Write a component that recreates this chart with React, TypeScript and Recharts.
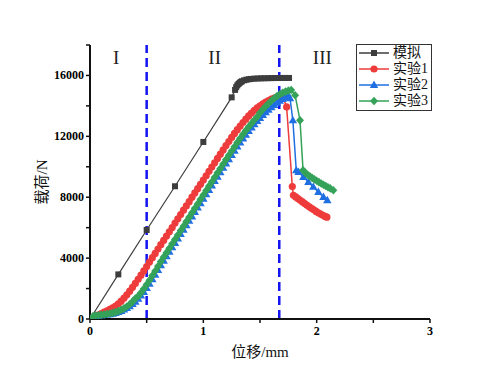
import React from "react";
import { LineChart, Line, XAxis, YAxis, ReferenceLine } from "recharts";

// 位移 (mm) / 载荷 (N)
const simX = [0, 0.25, 0.5, 0.75, 1.0, 1.25, 1.28, 1.29, 1.3, 1.31, 1.32, 1.33, 1.34, 1.36, 1.38, 1.4, 1.42, 1.45, 1.48, 1.51, 1.54, 1.57, 1.6, 1.63, 1.66, 1.69, 1.72, 1.756];
const simY = [0, 2930, 5850, 8720, 11630, 14560, 15050, 15230, 15350, 15440, 15510, 15570, 15620, 15680, 15720, 15750, 15770, 15790, 15800, 15810, 15815, 15820, 15825, 15830, 15830, 15835, 15835, 15835];

const riseX = [0, 0.025, 0.05, 0.075, 0.1, 0.125, 0.15, 0.175, 0.2, 0.225, 0.25, 0.275, 0.3, 0.325, 0.35, 0.375, 0.4, 0.425, 0.45, 0.475, 0.5, 0.525, 0.55, 0.575, 0.6, 0.625, 0.65, 0.675, 0.7, 0.725, 0.75, 0.775, 0.8, 0.825, 0.85, 0.875, 0.9, 0.925, 0.95, 0.975, 1.0, 1.025, 1.05, 1.075, 1.1, 1.125, 1.15, 1.175, 1.2, 1.225, 1.25, 1.275, 1.3, 1.325, 1.35, 1.375, 1.4, 1.425, 1.45, 1.475, 1.5, 1.525, 1.55, 1.575, 1.6, 1.625, 1.65, 1.675, 1.7, 1.725, 1.75, 1.775];

const exp1Y = [0, 90, 180, 270, 360, 450, 540, 630, 730, 850, 1000, 1170, 1370, 1590, 1830, 2080, 2340, 2610, 2880, 3160, 3450, 3740, 4030, 4310, 4600, 4880, 5160, 5450, 5730, 6010, 6300, 6580, 6860, 7150, 7430, 7710, 8000, 8280, 8560, 8850, 9130, 9410, 9700, 9980, 10260, 10550, 10830, 11110, 11390, 11660, 11930, 12190, 12440, 12680, 12910, 13130, 13340, 13530, 13710, 13870, 14010, 14140, 14250, 14350, 14440, 14510, 14570, 14620, 14650];
const exp1TailX = [1.735, 1.785, 1.795, 1.815, 1.835, 1.855, 1.875, 1.895, 1.915, 1.935, 1.955, 1.975, 1.995, 2.015, 2.035, 2.055, 2.075, 2.09];
const exp1TailY = [13930, 8700, 8130, 8020, 7910, 7800, 7690, 7580, 7470, 7370, 7270, 7170, 7070, 6980, 6890, 6810, 6740, 6690];

const exp2Y = [0, 120, 180, 220, 250, 270, 290, 320, 350, 400, 460, 530, 620, 720, 840, 980, 1140, 1330, 1540, 1780, 2040, 2320, 2610, 2910, 3220, 3530, 3830, 4130, 4420, 4710, 5000, 5290, 5580, 5870, 6160, 6450, 6740, 7030, 7320, 7610, 7900, 8190, 8480, 8770, 9060, 9350, 9640, 9930, 10220, 10500, 10780, 11060, 11330, 11600, 11860, 12110, 12350, 12580, 12800, 13010, 13210, 13400, 13580, 13750, 13910, 14060, 14200, 14330, 14450, 14560, 14690];
const exp2TailX = [1.765, 1.79, 1.82, 1.84, 1.883, 1.927, 1.97, 2.015, 2.06, 2.094];
const exp2TailY = [14500, 13050, 9770, 9660, 9330, 9000, 8680, 8350, 8020, 7800];

const exp3Y = [0, 170, 220, 250, 280, 300, 330, 360, 400, 450, 520, 600, 700, 820, 960, 1140, 1340, 1500, 1730, 1990, 2260, 2550, 2850, 3150, 3460, 3770, 4070, 4360, 4650, 4940, 5230, 5520, 5810, 6100, 6400, 6690, 6980, 7270, 7560, 7860, 8150, 8440, 8730, 9020, 9310, 9600, 9890, 10180, 10470, 10760, 11040, 11320, 11600, 11870, 12130, 12380, 12620, 12850, 13070, 13280, 13550, 13770, 13970, 14160, 14340, 14500, 14640, 14760, 14860, 14940, 15000, 15040];
const exp3TailX = [1.81, 1.853, 1.88, 1.9, 1.92, 1.94, 1.96, 1.98, 2.0, 2.02, 2.04, 2.06, 2.08, 2.1, 2.12, 2.147];
const exp3TailY = [14700, 13050, 9770, 9600, 9480, 9370, 9270, 9170, 9080, 8990, 8900, 8820, 8740, 8660, 8580, 8460];

const xTicks = [0, 0.5, 1, 1.5, 2, 2.5, 3];
const yTicks = [0, 2000, 4000, 6000, 8000, 10000, 12000, 14000, 16000, 18000];
const xLabels = [0, 1, 2, 3];
const yLabels = [0, 4000, 8000, 12000, 16000];
const stages = ["I", "II", "III"];
const stageX = [0.23, 1.1, 2.05];
const stageBounds = [0.5, 1.67];

const names = ["模拟", "实验1", "实验2", "实验3"];
const colors = ["#3d3d3d", "#ee3b3b", "#1f6fe3", "#34a258"];

const pairs = (xs: number[], ys: number[]) => ys.map((y, i) => ({ x: xs[i], y }));

const simData = pairs(simX, simY);
const exp1Data = pairs(riseX, exp1Y).concat(pairs(exp1TailX, exp1TailY));
const exp2Data = pairs(riseX, exp2Y).concat(pairs(exp2TailX, exp2TailY));
const exp3Data = pairs(riseX, exp3Y).concat(pairs(exp3TailX, exp3TailY));

const serif = "'Liberation Serif', 'Noto Sans CJK SC', serif";

function Marker({ kind, cx, cy, color }: { kind: number; cx: number; cy: number; color: string }) {
  if (kind === 0) return <rect x={cx - 3} y={cy - 3} width={6} height={6} fill={color} />;
  if (kind === 1) return <circle cx={cx} cy={cy} r={3.6} fill={color} />;
  if (kind === 2)
    return <polygon points={`${cx},${cy - 4.4} ${cx - 4.2},${cy + 3} ${cx + 4.2},${cy + 3}`} fill={color} />;
  return <polygon points={`${cx},${cy - 4.3} ${cx + 4},${cy} ${cx},${cy + 4.3} ${cx - 4},${cy}`} fill={color} />;
}

const dotFor = (kind: number) => (p: any) => (
  <Marker key={p.index} kind={kind} cx={p.cx} cy={p.cy} color={colors[kind]} />
);

function LegendBox() {
  return (
    <div
      style={{
        position: "absolute",
        left: 356,
        top: 44,
        border: "1px solid #333",
        background: "#fff",
        width: 74,
        padding: "0 0 1px 0",
        fontFamily: serif,
        fontSize: 14,
        lineHeight: "16px"
      }}
    >
      {names.map((n, i) => (
        <div key={n} style={{ display: "flex", alignItems: "center", height: 16 }}>
          <svg width={34} height={16}>
            <line x1={2} x2={32} y1={8} y2={8} stroke={colors[i]} strokeWidth={1.5} />
            <Marker kind={i} cx={17} cy={8} color={colors[i]} />
          </svg>
          <span style={{ marginLeft: 2, color: "#111" }}>{n}</span>
        </div>
      ))}
    </div>
  );
}

const YTick = (p: any) => {
  const v = p.payload.value;
  if (!yLabels.includes(v)) return <g />;
  return (
    <text x={p.x} y={p.y} dy={4} textAnchor="end" fontFamily={serif} fontSize={12} fontWeight="bold" fill="#000">
      {v}
    </text>
  );
};

const XTick = (p: any) => {
  const v = p.payload.value;
  if (!xLabels.includes(v)) return <g />;
  return (
    <text x={p.x} y={p.y} dy={10} textAnchor="middle" fontFamily={serif} fontSize={12} fontWeight="bold" fill="#000">
      {v}
    </text>
  );
};

export default function App() {
  return (
    <div style={{ position: "absolute", left: 0, top: 0, width: 500, height: 382, background: "#fff" }}>
      <LineChart width={500} height={382} margin={{ top: 45, right: 70, bottom: 33, left: 40 }}>
        <XAxis
          type="number"
          dataKey="x"
          domain={[0, 3]}
          ticks={xTicks}
          interval={0}
          height={30}
          tick={XTick}
          tickSize={4}
          axisLine={{ stroke: "#111", strokeWidth: 2 }}
          tickLine={{ stroke: "#111", strokeWidth: 1.5 }}
          allowDataOverflow
        />
        <YAxis
          type="number"
          domain={[0, 18000]}
          ticks={yTicks}
          interval={0}
          width={50}
          tick={YTick}
          tickSize={4}
          axisLine={{ stroke: "#111", strokeWidth: 2 }}
          tickLine={{ stroke: "#111", strokeWidth: 1.5 }}
          allowDataOverflow
        />
        {stageBounds.map((b) => (
          <ReferenceLine key={b} x={b} stroke="#1414f0" strokeWidth={2.5} strokeDasharray="9 5" />
        ))}
        <Line data={simData} dataKey="y" stroke={colors[0]} strokeWidth={1.2} dot={dotFor(0)} isAnimationActive={false} />
        <Line data={exp1Data} dataKey="y" stroke={colors[1]} strokeWidth={1.5} dot={dotFor(1)} isAnimationActive={false} />
        <Line data={exp2Data} dataKey="y" stroke={colors[2]} strokeWidth={1.5} dot={dotFor(2)} isAnimationActive={false} />
        <Line data={exp3Data} dataKey="y" stroke={colors[3]} strokeWidth={1.5} dot={dotFor(3)} isAnimationActive={false} />
        {stages.map((s, i) => (
          <ReferenceLine
            key={s}
            x={stageX[i]}
            stroke="none"
            label={{ value: s, position: "insideTop", offset: 6, fontFamily: serif, fontSize: 19, fill: "#222" }}
          />
        ))}
        <text x={260} y={357} textAnchor="middle" fontFamily={serif} fontSize={15} fill="#111">
          位移/mm
        </text>
        <text
          x={47}
          y={182}
          textAnchor="middle"
          fontFamily={serif}
          fontSize={15}
          fill="#111"
          transform="rotate(-90 47 182)"
        >
          载荷/N
        </text>
      </LineChart>
      <LegendBox />
    </div>
  );
}
